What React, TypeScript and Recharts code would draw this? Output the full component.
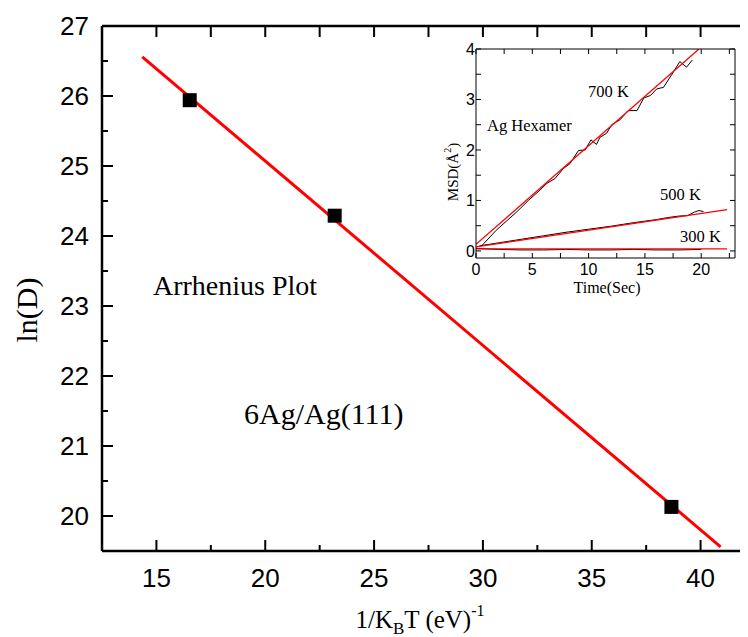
import { ComposedChart, LineChart, Line, Scatter, XAxis, YAxis } from "recharts";

// main Arrhenius plot
const invKT = [16.53, 23.19, 38.66];
const lnD = [25.94, 24.29, 20.13];
const fitInvKT = [14.35, 40.92];
const fitLnD = [26.56, 19.56];
const mainXTicks = [15, 17.5, 20, 22.5, 25, 27.5, 30, 32.5, 35, 37.5, 40, 42.5];
const mainYTicks = [20, 20.5, 21, 21.5, 22, 22.5, 23, 23.5, 24, 24.5, 25, 25.5, 26, 26.5, 27];

// inset: MSD vs time
const t700 = [0.5, 1.8, 3.6, 4.65, 5.7, 6.3, 7.0, 7.75, 8.35, 9.1, 9.7, 10.2, 10.7, 11.0, 11.6, 12.05, 12.8, 13.5, 14.3, 14.9, 15.5, 16.05, 16.65, 17.4, 18.1, 18.7, 19.2];
const msd700 = [0.1, 0.41, 0.77, 1.0, 1.21, 1.34, 1.43, 1.63, 1.73, 1.99, 2.0, 2.2, 2.11, 2.25, 2.33, 2.5, 2.6, 2.78, 2.78, 3.03, 3.08, 3.21, 3.24, 3.5, 3.75, 3.64, 3.78];
const fit700T = [0, 19.8];
const fit700Y = [0.13, 4.0];
const t500 = [0.3, 2, 4, 6, 8, 10, 12, 14, 16, 17, 18, 18.8, 19.4, 19.8, 20.2];
const msd500 = [0.1, 0.16, 0.23, 0.3, 0.37, 0.43, 0.49, 0.56, 0.62, 0.66, 0.69, 0.7, 0.77, 0.8, 0.78];
const fit500T = [0, 22.3];
const fit500Y = [0.08, 0.82];
const t300 = [0, 2, 4, 6, 8, 10, 12, 14, 16, 18, 20];
const msd300 = [0.05, 0.03, 0.02, 0.02, 0.03, 0.02, 0.02, 0.03, 0.02, 0.02, 0.03];
const fit300T = [0, 22.3];
const fit300Y = [0.04, 0.04];
const insetXTicks = [0, 2.5, 5, 7.5, 10, 12.5, 15, 17.5, 20, 22.5];
const insetYTicks = [0, 0.5, 1, 1.5, 2, 2.5, 3, 3.5, 4];

const pts = (xs: number[], ys: number[]) => xs.map((x, i) => ({ x, y: ys[i] }));

const SANS = "'Liberation Sans', Arial, sans-serif";
const SERIF = "'Liberation Serif', 'Times New Roman', serif";

type TickProps = { x: number; y: number; payload: { value: number } };

const mainBottomTick = (p: TickProps) => {
  const v = p.payload.value;
  const major = v % 5 === 0;
  return (
    <g>
      <line x1={p.x} x2={p.x} y1={p.y} y2={p.y - (major ? 11 : 6)} stroke="#000" strokeWidth={2} />
      {major && (
        <text x={p.x} y={p.y + 36} textAnchor="middle" fontSize={26} fontFamily={SANS} fill="#000">
          {v}
        </text>
      )}
    </g>
  );
};

const mainTopTick = (p: TickProps) => (
  <line x1={p.x} x2={p.x} y1={p.y} y2={p.y + 11} stroke="#000" strokeWidth={2} />
);

const mainLeftTick = (p: TickProps) => {
  const v = p.payload.value;
  const major = Number.isInteger(v);
  return (
    <g>
      <line x1={p.x} x2={p.x + (major ? 11 : 6)} y1={p.y} y2={p.y} stroke="#000" strokeWidth={2} />
      {major && (
        <text x={p.x - 13} y={p.y + 9} textAnchor="end" fontSize={26} fontFamily={SANS} fill="#000">
          {v}
        </text>
      )}
    </g>
  );
};

const mainRightTick = (p: TickProps) => {
  const major = Number.isInteger(p.payload.value);
  return <line x1={p.x} x2={p.x - (major ? 11 : 6)} y1={p.y} y2={p.y} stroke="#000" strokeWidth={2} />;
};

const insetBottomTick = (p: TickProps) => {
  const v = p.payload.value;
  const major = v % 5 === 0;
  return (
    <g>
      <line x1={p.x} x2={p.x} y1={p.y} y2={p.y - 5} stroke="#000" strokeWidth={1} />
      {major && (
        <text x={p.x} y={p.y + 17} textAnchor="middle" fontSize={16} fontFamily={SANS} fill="#000">
          {v}
        </text>
      )}
    </g>
  );
};

const insetTopTick = (p: TickProps) => (
  <line x1={p.x} x2={p.x} y1={p.y} y2={p.y + 5} stroke="#000" strokeWidth={1} />
);

const insetLeftTick = (p: TickProps) => {
  const v = p.payload.value;
  const major = Number.isInteger(v);
  return (
    <g>
      <line x1={p.x} x2={p.x + 5} y1={p.y} y2={p.y} stroke="#000" strokeWidth={1} />
      {major && (
        <text x={p.x - 1} y={p.y + 6} textAnchor="end" fontSize={16} fontFamily={SANS} fill="#000">
          {v}
        </text>
      )}
    </g>
  );
};

const insetRightTick = (p: TickProps) => (
  <line x1={p.x} x2={p.x - 5} y1={p.y} y2={p.y} stroke="#000" strokeWidth={1} />
);

const squareShape = (p: { cx?: number; cy?: number }) => (
  <rect x={(p.cx ?? 0) - 7} y={(p.cy ?? 0) - 7} width={14} height={14} fill="#000" />
);

const frame = { stroke: "#000", strokeWidth: 2.5 };
const thinFrame = { stroke: "#000", strokeWidth: 1 };

export default function App() {
  return (
    <div
      style={{
        position: "relative",
        width: 748,
        height: 637,
        margin: "-8px 0 0 -8px",
        overflow: "hidden",
        background: "#fff",
      }}
    >
      <div style={{ position: "absolute", left: 0, top: 0 }}>
        <ComposedChart width={760} height={637} margin={{ top: 25, right: 4, left: 101, bottom: 85 }}>
          <XAxis
            xAxisId="b"
            type="number"
            dataKey="x"
            domain={[12.5, 42.5]}
            ticks={mainXTicks}
            interval={0}
            height={1}
            tickSize={0}
            tickMargin={0}
            tickLine={false}
            axisLine={frame}
            tick={mainBottomTick}
            allowDataOverflow
          />
          <XAxis
            xAxisId="t"
            orientation="top"
            type="number"
            dataKey="x"
            domain={[12.5, 42.5]}
            ticks={mainXTicks}
            interval={0}
            height={1}
            tickSize={0}
            tickMargin={0}
            tickLine={false}
            axisLine={frame}
            tick={mainTopTick}
            allowDataOverflow
          />
          <YAxis
            yAxisId="l"
            type="number"
            dataKey="y"
            domain={[19.5, 27]}
            ticks={mainYTicks}
            interval={0}
            width={1}
            tickSize={0}
            tickMargin={0}
            tickLine={false}
            axisLine={frame}
            tick={mainLeftTick}
            allowDataOverflow
          />
          <YAxis
            yAxisId="r"
            orientation="right"
            type="number"
            dataKey="y"
            domain={[19.5, 27]}
            ticks={mainYTicks}
            interval={0}
            width={1}
            tickSize={0}
            tickMargin={0}
            tickLine={false}
            axisLine={frame}
            tick={mainRightTick}
            allowDataOverflow
          />
          <Scatter
            xAxisId="b"
            yAxisId="l"
            data={pts(invKT, lnD)}
            dataKey="y"
            shape={squareShape}
            isAnimationActive={false}
          />
          <Line
            xAxisId="b"
            yAxisId="l"
            data={pts(fitInvKT, fitLnD)}
            dataKey="y"
            type="linear"
            stroke="#ff0000"
            strokeWidth={3}
            dot={false}
            activeDot={false}
            isAnimationActive={false}
          />
        </ComposedChart>
      </div>

      <div style={{ position: "absolute", left: 430, top: 20 }}>
        <LineChart width={320} height={280} margin={{ top: 28, right: 14, left: 45, bottom: 41 }}>
          <XAxis
            xAxisId="b"
            type="number"
            dataKey="x"
            domain={[0, 23]}
            ticks={insetXTicks}
            interval={0}
            height={1}
            tickSize={0}
            tickMargin={0}
            tickLine={false}
            axisLine={thinFrame}
            tick={insetBottomTick}
            allowDataOverflow
          />
          <XAxis
            xAxisId="t"
            orientation="top"
            type="number"
            dataKey="x"
            domain={[0, 23]}
            ticks={insetXTicks}
            interval={0}
            height={1}
            tickSize={0}
            tickMargin={0}
            tickLine={false}
            axisLine={thinFrame}
            tick={insetTopTick}
            allowDataOverflow
          />
          <YAxis
            yAxisId="l"
            type="number"
            dataKey="y"
            domain={[-0.14, 4]}
            ticks={insetYTicks}
            interval={0}
            width={1}
            tickSize={0}
            tickMargin={0}
            tickLine={false}
            axisLine={thinFrame}
            tick={insetLeftTick}
            allowDataOverflow
          />
          <YAxis
            yAxisId="r"
            orientation="right"
            type="number"
            dataKey="y"
            domain={[-0.14, 4]}
            ticks={insetYTicks}
            interval={0}
            width={1}
            tickSize={0}
            tickMargin={0}
            tickLine={false}
            axisLine={thinFrame}
            tick={insetRightTick}
            allowDataOverflow
          />
          <Line xAxisId="b" yAxisId="l" data={pts(t300, msd300)} dataKey="y" stroke="#000" strokeWidth={1} dot={false} activeDot={false} isAnimationActive={false} />
          <Line xAxisId="b" yAxisId="l" data={pts(t500, msd500)} dataKey="y" stroke="#000" strokeWidth={1} dot={false} activeDot={false} isAnimationActive={false} />
          <Line xAxisId="b" yAxisId="l" data={pts(t700, msd700)} dataKey="y" stroke="#000" strokeWidth={1} dot={false} activeDot={false} isAnimationActive={false} />
          <Line xAxisId="b" yAxisId="l" data={pts(fit300T, fit300Y)} dataKey="y" stroke="#ff0000" strokeWidth={1.3} dot={false} activeDot={false} isAnimationActive={false} />
          <Line xAxisId="b" yAxisId="l" data={pts(fit500T, fit500Y)} dataKey="y" stroke="#ff0000" strokeWidth={1.3} dot={false} activeDot={false} isAnimationActive={false} />
          <Line xAxisId="b" yAxisId="l" data={pts(fit700T, fit700Y)} dataKey="y" stroke="#ff0000" strokeWidth={1.3} dot={false} activeDot={false} isAnimationActive={false} />
        </LineChart>
      </div>

      <svg
        width={748}
        height={637}
        style={{ position: "absolute", left: 0, top: 0, pointerEvents: "none" }}
      >
        <g fontFamily={SERIF} fill="#000">
          <text x={153} y={295} fontSize={28}>Arrhenius Plot</text>
          <text x={244} y={424} fontSize={30}>6Ag/Ag(111)</text>
          <text x={37} y={310} fontSize={30} textAnchor="middle" transform="rotate(-90 37 310)">
            ln(D)
          </text>
          <text x={420} y={628} fontSize={25} textAnchor="middle">
            1/K
            <tspan fontSize={17} dy={6}>B</tspan>
            <tspan dy={-6}>T (eV)</tspan>
            <tspan fontSize={16} dy={-12}>-1</tspan>
          </text>

          <text x={487} y={131} fontSize={16.5}>Ag Hexamer</text>
          <text x={588} y={97} fontSize={16.5}>700 K</text>
          <text x={660} y={200} fontSize={16.5}>500 K</text>
          <text x={680} y={242} fontSize={16.5}>300 K</text>
          <text x={607} y={293} fontSize={16} textAnchor="middle">Time(Sec)</text>
          <text x={458} y={172} fontSize={15} textAnchor="middle" transform="rotate(-90 458 172)">
            MSD(Å<tspan fontSize={10} dy={-7}>2</tspan>
            <tspan dy={7}>)</tspan>
          </text>
        </g>
      </svg>
    </div>
  );
}
